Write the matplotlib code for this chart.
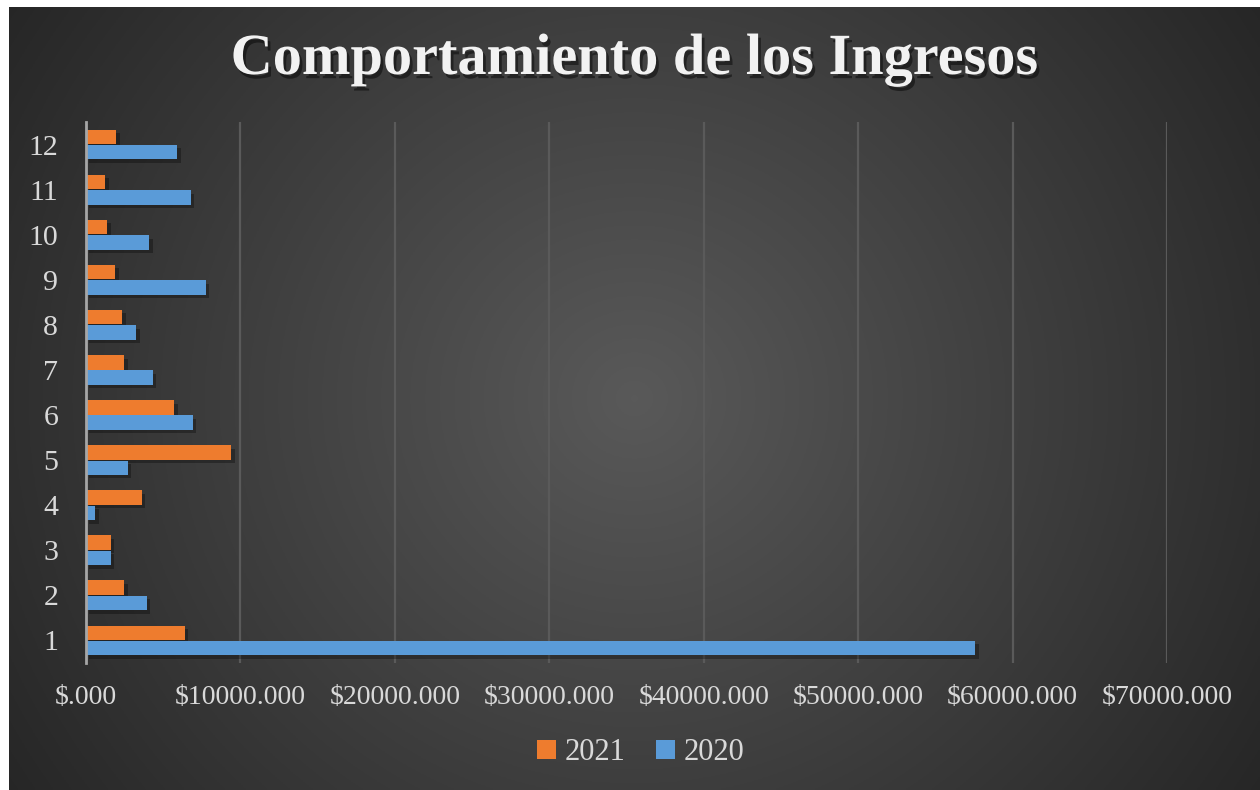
import matplotlib
matplotlib.use("Agg")
import matplotlib.pyplot as plt
import matplotlib.patheffects as pe
from matplotlib.ticker import FuncFormatter
import numpy as np

# monthly income
months = [1, 2, 3, 4, 5, 6, 7, 8, 9, 10, 11, 12]
ing_2021 = [6380, 2490, 1590, 3600, 9420, 5730, 2490, 2360, 1910, 1390, 1260, 1970]
ing_2020 = [57580, 3920, 1590, 610, 2690, 6900, 4310, 3270, 7740, 4110, 6770, 5900]
series_names = ["2021", "2020"]

plt.rcParams['font.family'] = ['Liberation Serif', 'DejaVu Serif']

fig = plt.figure(figsize=(12.6, 7.9), dpi=100)
fig.patch.set_facecolor('white')

# dark radial gradient background (leaves the thin white strip left/top)
bg = fig.add_axes([9/1260, 0, 1 - 9/1260, 1 - 7/790], zorder=-10)
yy, xx = np.mgrid[0:1:300j, 0:1:480j]
r = np.sqrt((xx - 0.5) ** 2 + ((yy - 0.5) * 0.65) ** 2)
gray = np.clip(0.15 + 0.20 * (1 - np.clip(r / 0.6, 0, 1)), 0, 1)
bg.imshow(np.dstack([gray, gray, gray]), aspect='auto', extent=[0, 1, 0, 1])
bg.axis('off')

ax = fig.add_axes([86/1260, 1 - 663/790, (1167 - 86)/1260, (663 - 122)/790])
ax.set_facecolor('none')

y = np.array(months)
h = 0.32
shadow = [pe.SimplePatchShadow(offset=(2.5, -2.5), shadow_rgbFace='black', alpha=0.3), pe.Normal()]
b1 = ax.barh(y + 0.17, ing_2021, height=h, color='#EE7C2E', label=series_names[0], zorder=3)
b2 = ax.barh(y - 0.17, ing_2020, height=h, color='#5A9BD8', label=series_names[1], zorder=3)
for b in list(b1) + list(b2):
    b.set_path_effects(shadow)

ax.set_xlim(0, 70000)
ax.set_ylim(0.5, 12.5)
ax.set_xticks(np.arange(0, 70001, 10000))
ax.set_yticks(months)
ax.xaxis.set_major_formatter(FuncFormatter(lambda v, p: "$" + ("%.3f" % v).lstrip('0')))
ax.grid(axis='x', color='#5a5a5a', linewidth=1.6, zorder=0)
ax.tick_params(axis='both', length=0, colors='#d9d9d9', labelsize=20)
ax.tick_params(axis='y', labelsize=21.5, pad=20)
ax.tick_params(axis='x', pad=16)
for s in ['top', 'right', 'bottom']:
    ax.spines[s].set_visible(False)
ax.spines['left'].set_color('#a6a6a6')
ax.spines['left'].set_linewidth(2)
ax.spines['left'].set_zorder(4)

fig.text(635/1260, 1 - 60/790, "Comportamiento de los Ingresos", ha='center', va='center',
         fontsize=42, fontweight='bold', color='#f2f2f2',
         path_effects=[pe.withSimplePatchShadow(offset=(2, -3), shadow_rgbFace='black', alpha=0.45)])

leg = fig.legend(loc='center', bbox_to_anchor=(641/1260, 1 - 753/790), ncol=2, frameon=False,
                 fontsize=22, handlelength=0.6, handleheight=0.6, handletextpad=0.3,
                 columnspacing=1.0)
for t in leg.get_texts():
    t.set_color('#d9d9d9')
for hnd in leg.legend_handles:
    hnd.set_path_effects([])

fig.savefig("out.png", dpi=100, facecolor=fig.get_facecolor())
